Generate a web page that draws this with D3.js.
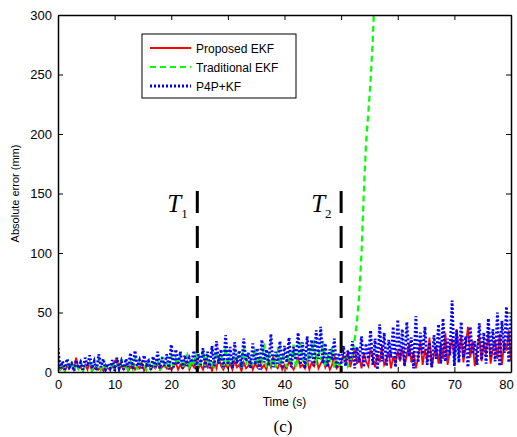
<!DOCTYPE html>
<html>
<head>
<meta charset="utf-8">
<script src="https://cdn.jsdelivr.net/npm/d3@7"></script>
<style>
  body { margin: 0; background: #fff; }
  svg { font-family: "Liberation Sans", Arial, sans-serif; }
</style>
</head>
<body>
<svg width="517" height="437"></svg>
<script>
// sample step of the recorded error series (s)
let step = 0.4;

let xTicks = [0, 10, 20, 30, 40, 50, 60, 70, 80];
let yTicks = [0, 50, 100, 150, 200, 250, 300];
let seriesNames = ["Proposed EKF", "Traditional EKF", "P4P+KF"];
let markerTimes = [24.6, 50];
let markerNames = ["1", "2"];

let proposedEKF = [
  6,2,4,1,5,3,7,2,12,3,4,1,6,2,8,1,3,5,2,4,1,6,3,2,5,9,
  11,3,5,2,6,1,4,7,2,5,3,8,1,4,6,2,5,3,7,2,4,6,3,5,2,
  4,8,2,6,3,5,9,2,7,4,12,3,6,2,10,4,7,1,8,3,14,5,2,6,3,
  7,2,9,4,6,1,8,3,5,10,2,7,4,11,3,6,2,9,4,13,5,3,8,2,6,
  3,9,5,2,7,12,4,6,3,10,2,8,5,14,3,7,11,4,9,2,6,15,3,5,8,
  14,6,18,4,11,20,7,13,3,16,9,5,19,12,4,15,8,22,6,10,17,3,13,7,18,
  9,21,5,14,24,8,17,3,12,26,6,19,10,29,4,15,22,7,25,11,33,6,18,28,10,
  36,14,30,8,22,38,12,26,5,19,31,9,24,15,34,7,20,27,11,32,6,25,18,35,9
];

let traditionalEKF = [
  12,3,8,2,6,4,9,1,7,3,10,2,5,4,8,1,6,3,11,2,7,4,5,2,9,3,
  6,2,10,4,7,1,9,3,12,2,8,5,6,2,11,3,7,4,9,1,13,5,8,2,14,
  4,11,6,17,3,9,14,2,12,5,16,3,8,19,4,13,6,10,2,18,7,15,3,21,5,
  12,4,19,8,14,2,22,6,16,3,11,20,5,13,9,24,4,17,7,12,3,21,6,15,10,
  4,18,7,23,3,14,25,9,16,5,20,12,27,6,19,10,26,4,15,8,21,3,11,6,5,
  6,12,5,9,14,28,42,65,100,150,192,218,245,280,330
];

let p4pKF = [
  20,3,9,2,11,4,7,1,10,3,8,2,12,5,14,3,9,1,15,4,11,2,7,3,10,1,
  12,3,9,2,11,4,16,2,18,5,10,3,14,6,9,2,13,4,17,3,12,5,15,2,23,
  4,19,6,17,3,14,5,12,8,18,2,15,6,20,4,17,3,22,5,26,7,19,4,31,6,
  21,3,25,7,18,4,28,9,16,3,24,6,20,2,27,8,19,5,32,4,17,7,26,3,22,
  8,29,4,21,10,33,6,25,3,30,9,27,5,35,11,38,7,24,4,19,10,28,3,16,6,
  22,5,18,9,26,3,21,8,30,4,24,11,35,6,28,2,40,9,33,5,27,12,38,4,44,
  10,36,5,42,13,29,3,47,8,33,15,38,6,25,4,31,11,40,7,45,9,28,14,60,5,
  35,8,42,12,30,4,38,15,26,6,41,10,33,7,45,13,36,9,50,5,43,16,55,8,47
];

let colors = ["#ff0000", "#00ff00", "#0000ff"];
let widths = [1.8, 2.2, 2.8];
let dashes = [null, "6,4", "2,2"];

let svg = d3.select("svg");
let margin = {left: 58, right: 6, top: 15, bottom: 65};
let W = 517, H = 437;

let x = d3.scaleLinear().domain([0, 80]).range([margin.left, W - margin.right]);
let y = d3.scaleLinear().domain([0, 300]).range([H - margin.bottom, margin.top]);

svg.append("clipPath").attr("id", "plotclip")
  .append("rect")
  .attr("x", x(0)).attr("y", y(300))
  .attr("width", x(80) - x(0)).attr("height", y(0) - y(300));

let line = d3.line()
  .x(function(d, i) { return x(i * step) })
  .y(function(d) { return y(d) });

let plot = svg.append("g").attr("clip-path", "url(#plotclip)");
[proposedEKF, traditionalEKF, p4pKF].forEach(function(series, k) {
  plot.append("path")
    .attr("d", line(series))
    .attr("fill", "none")
    .attr("stroke", colors[k])
    .attr("stroke-width", widths[k])
    .attr("stroke-dasharray", dashes[k]);
});

// T1 / T2 markers
markerTimes.forEach(function(t, k) {
  svg.append("line")
    .attr("x1", x(t)).attr("x2", x(t))
    .attr("y1", y(152)).attr("y2", y(0))
    .attr("stroke", "#000").attr("stroke-width", 3)
    .attr("stroke-dasharray", "22,13");
  let lab = svg.append("text")
    .attr("x", x(t) - 30).attr("y", 212)
    .attr("font-family", "Liberation Serif, Times New Roman, serif")
    .attr("font-style", "italic")
    .attr("font-size", 25)
    .text("T");
  lab.append("tspan")
    .attr("font-style", "normal")
    .attr("font-size", 13)
    .attr("dy", 6)
    .text(markerNames[k]);
});

// axes (MATLAB style box, inward ticks)
let tickLen = 5;
let axB = svg.append("g").attr("transform", "translate(0," + y(0) + ")")
  .call(d3.axisBottom(x).tickValues(xTicks).tickSizeInner(-tickLen).tickSizeOuter(0).tickPadding(8));
let axT = svg.append("g").attr("transform", "translate(0," + y(300) + ")")
  .call(d3.axisTop(x).tickValues(xTicks).tickSizeInner(-tickLen).tickSizeOuter(0).tickFormat(""));
let axL = svg.append("g").attr("transform", "translate(" + x(0) + ",0)")
  .call(d3.axisLeft(y).tickValues(yTicks).tickSizeInner(-tickLen).tickSizeOuter(0).tickPadding(6));
let axR = svg.append("g").attr("transform", "translate(" + x(80) + ",0)")
  .call(d3.axisRight(y).tickValues(yTicks).tickSizeInner(-tickLen).tickSizeOuter(0).tickFormat(""));

[axB, axT, axL, axR].forEach(function(a) {
  a.select(".domain").attr("stroke", "#000").attr("stroke-width", 1.5);
  a.selectAll(".tick line").attr("stroke", "#000");
  a.selectAll("text").attr("font-size", 13).attr("fill", "#000")
    .attr("font-family", "Liberation Sans, Arial, sans-serif");
});
// last x label sits against the page edge
axB.selectAll(".tick text").filter(function(d) { return d === 80 }).attr("dx", -5);

// axis labels
svg.append("text")
  .attr("x", (x(0) + x(80)) / 2).attr("y", 406)
  .attr("text-anchor", "middle").attr("font-size", 12)
  .text("Time (s)");
svg.append("text")
  .attr("transform", "translate(19," + (y(150)) + ") rotate(-90)")
  .attr("text-anchor", "middle").attr("font-size", 11)
  .text("Absolute error (mm)");
svg.append("text")
  .attr("x", 283).attr("y", 432)
  .attr("text-anchor", "middle")
  .attr("font-family", "Liberation Serif, Times New Roman, serif")
  .attr("font-size", 17)
  .text("(c)");

// legend
let lg = svg.append("g").attr("transform", "translate(142,34)");
lg.append("rect")
  .attr("width", 154).attr("height", 64)
  .attr("fill", "#fff").attr("stroke", "#000").attr("stroke-width", 1);
seriesNames.forEach(function(name, k) {
  let yy = 14 + k * 19;
  lg.append("line")
    .attr("x1", 8).attr("x2", 49).attr("y1", yy).attr("y2", yy)
    .attr("stroke", colors[k]).attr("stroke-width", widths[k])
    .attr("stroke-dasharray", dashes[k]);
  lg.append("text")
    .attr("x", 54).attr("y", yy + 4.5)
    .attr("font-size", 12)
    .text(name);
});
</script>
</body>
</html>
